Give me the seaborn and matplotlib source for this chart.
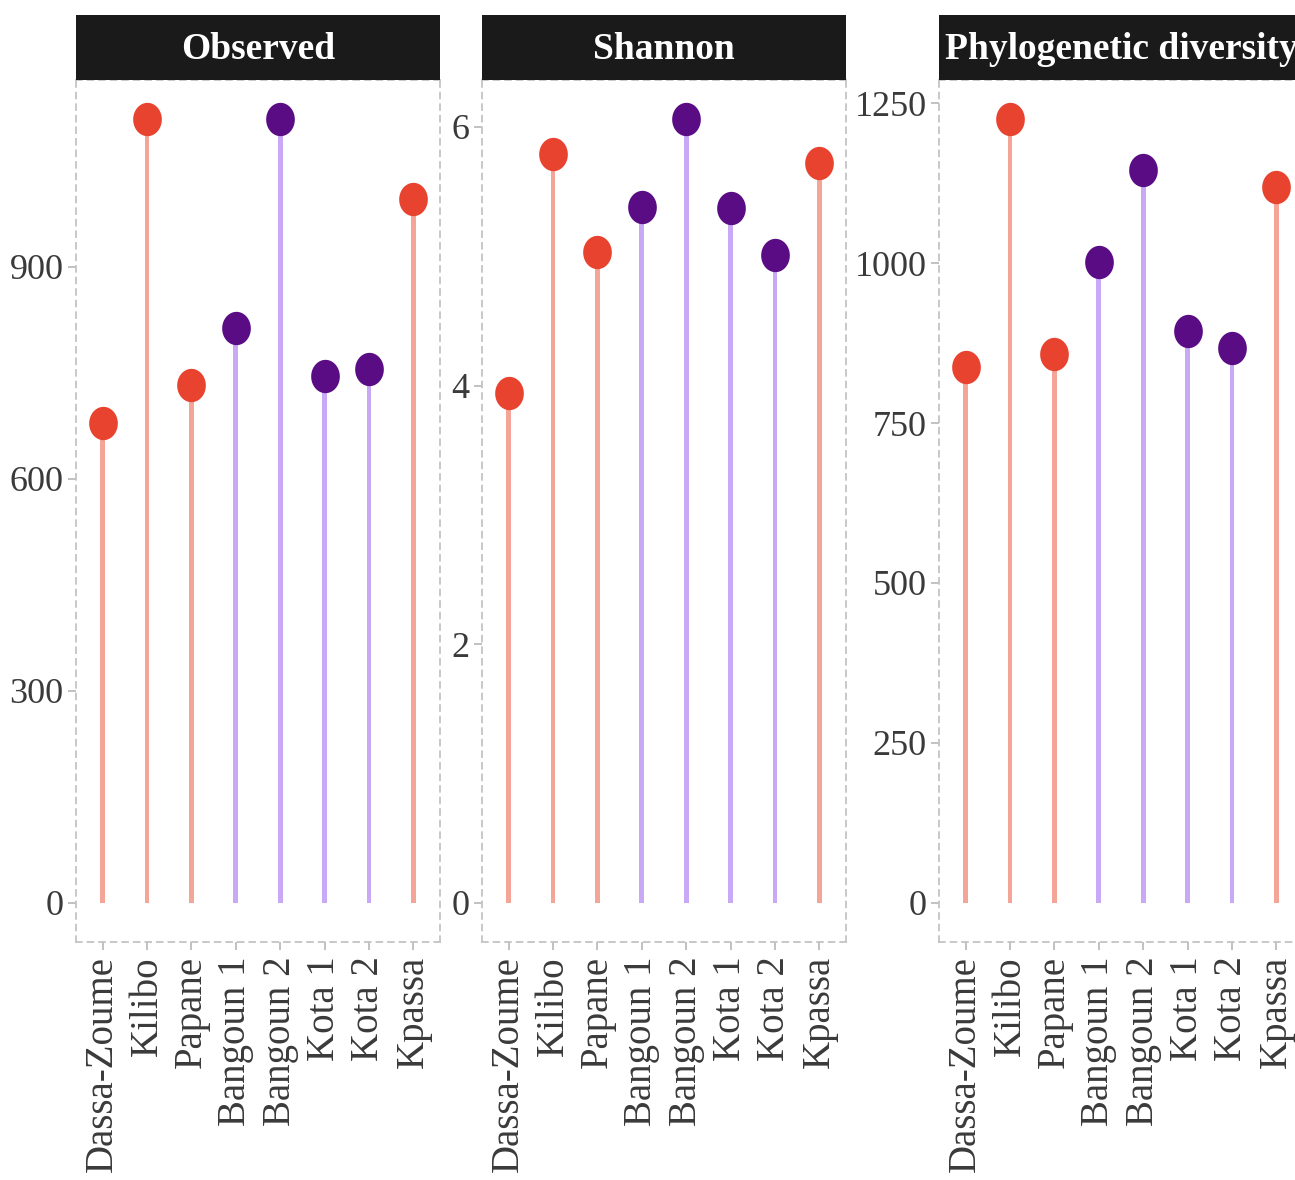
import numpy as np
import pandas as pd
import matplotlib
matplotlib.use("Agg")
import matplotlib.pyplot as plt
from matplotlib.path import Path
from matplotlib.patches import Rectangle
import seaborn as sns

# Sampling sites and their zone
sites = ["Dassa-Zoume", "Kilibo", "Papane", "Bangoun 1", "Bangoun 2",
         "Kota 1", "Kota 2", "Kpassa"]
zone = ["Zone 1", "Zone 1", "Zone 1", "Zone 2", "Zone 2",
        "Zone 2", "Zone 2", "Zone 1"]
zone_order = ["Zone 1", "Zone 2"]

# Alpha-diversity indices per site
observed = [679, 1109, 733, 814, 1109, 746, 756, 996]
shannon = [3.94, 5.79, 5.03, 5.38, 6.06, 5.37, 5.01, 5.72]
phylo = [837, 1225, 858, 1001, 1145, 894, 867, 1119]

observed_ticks = [0, 300, 600, 900]
shannon_ticks = [0, 2, 4, 6]
phylo_ticks = [0, 250, 500, 750, 1000, 1250]

titles = ["Observed", "Shannon", "Phylogenetic diversity"]

stem_palette = {"Zone 1": "#F5A498", "Zone 2": "#C9A8F6"}
dot_palette = {"Zone 1": "#E8432F", "Zone 2": "#5A0C85"}

sns.set_theme(style="white")
plt.rcParams["font.family"] = ["Liberation Serif", "DejaVu Serif"]

W, H = 1295, 1180
fig = plt.figure(figsize=(W / 100, H / 100), dpi=100)

# slightly tall oval marker
theta = np.linspace(0, 2 * np.pi, 60)
oval = Path(np.column_stack([0.43 * np.cos(theta), 0.5 * np.sin(theta)]), closed=True)

panel_left = [76, 482, 939]
panel_w = 364
panel_top, panel_bottom = 80, 942
strip_h = 65

panels = [(observed, observed_ticks), (shannon, shannon_ticks), (phylo, phylo_ticks)]

for i, ((values, ticks), title) in enumerate(zip(panels, titles)):
    ax = fig.add_axes([panel_left[i] / W, (H - panel_bottom) / H,
                       panel_w / W, (panel_bottom - panel_top) / H])
    df = pd.DataFrame({"site": sites, "value": values, "zone": zone})

    sns.barplot(data=df, x="site", y="value", hue="zone", order=sites,
                hue_order=zone_order, palette=stem_palette, width=0.11,
                dodge=False, saturation=1, linewidth=0, legend=False, ax=ax)
    sns.stripplot(data=df, x="site", y="value", hue="zone", order=sites,
                  hue_order=zone_order, palette=dot_palette, jitter=False,
                  dodge=False, size=24, marker=oval, linewidth=0,
                  legend=False, ax=ax, zorder=3)

    vmax = max(values)
    ax.set_xlim(-0.6, len(sites) - 0.4)
    ax.set_ylim(-0.05 * vmax, 1.05 * vmax)
    ax.set_yticks(ticks)
    ax.set_yticklabels([str(t) for t in ticks])
    ax.set_xlabel("")
    ax.set_ylabel("")
    ax.set_facecolor("white")
    ax.grid(False)

    for sp in ax.spines.values():
        sp.set_visible(True)
        sp.set_color("#C4C4C4")
        sp.set_linewidth(1.3)
        sp.set_linestyle((0, (3.2, 3.2)))

    ax.tick_params(axis="both", which="major", length=6, width=1.1,
                   color="#B0B0B0", labelcolor="#3A3A3A", direction="out",
                   bottom=True, left=True, pad=3)
    ax.tick_params(axis="y", labelsize=26)
    ax.tick_params(axis="x", labelsize=28, labelrotation=90, pad=4)

    # facet strip
    sh = strip_h / (panel_bottom - panel_top)
    ax.add_patch(Rectangle((0, 1), 1, sh, transform=ax.transAxes,
                           facecolor="#1A1A1A", edgecolor="none",
                           clip_on=False, zorder=5))
    ax.text(0.5, 1 + sh / 2 - 0.002, title, transform=ax.transAxes, ha="center",
            va="center", color="white", fontsize=27, fontweight="bold",
            zorder=6, clip_on=False)

fig.savefig("out.png", dpi=100)
